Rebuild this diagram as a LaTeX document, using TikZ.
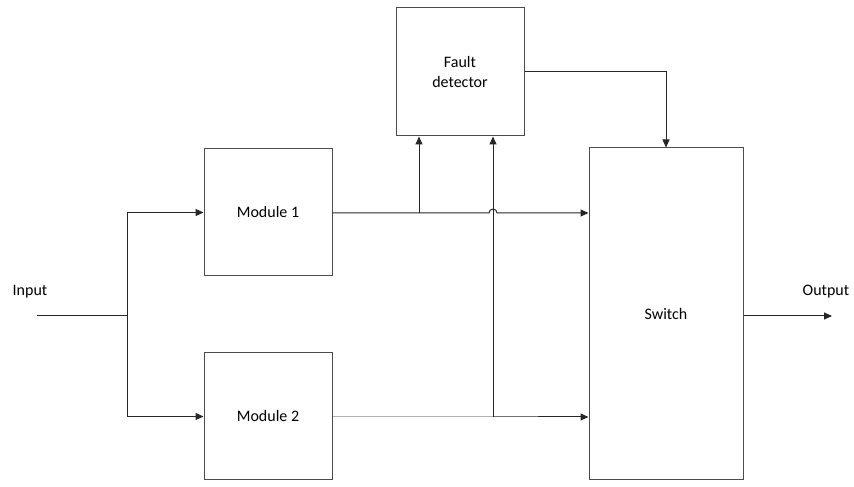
\documentclass[tikz,border=0pt]{standalone}
\usepackage{fontspec}
\setmainfont{Carlito}
\usetikzlibrary{positioning,arrows.meta}

\begin{document}
\begin{tikzpicture}[x=1pt,y=1pt,line cap=butt,line join=miter,>={Triangle[length=8pt,width=7pt]},
  every node/.style={inner sep=1pt,font=\fontsize{16}{20}\selectfont},
  block/.style={draw=black!70,line width=1pt,minimum width=128pt,minimum height=127pt,align=center},
  wire/.style={line width=1pt,draw=black!85}]
  \useasboundingbox (0,0) rectangle (854,487);
  \node[block] (mod1) at (268,274.5) {Module 1};
  \node[block] (mod2) at (268,70.5) {Module 2};
  \node[block,minimum height=128pt] (fault) at (460,415) {Fault\\detector};
  \node[block,minimum width=154pt,minimum height=332pt] (switch) at (666,173) {Switch};
  \coordinate (in) at (37,171);
  \coordinate (split) at (127,171);
  \coordinate (out) at (832,171);
  \coordinate (tap1) at (419,274);
  \coordinate (tap2) at (493,70);
  \node[anchor=south] (inlabel) at (30,188) {Input};
  \node[anchor=south] (outlabel) at (826,188) {Output};
  \draw[wire] (in) -- (split);
  \draw[wire,->] (split) |- (mod1.west);
  \draw[wire,->] (split) |- (mod2.west);
  \draw[wire,->] (mod1.east |- tap1) -- (tap1) -- (489,274) arc[start angle=180,end angle=0,radius=4] -- (switch.west |- tap1);
  \draw[wire,->] (tap1) -- (tap1 |- fault.south);
  \draw[wire,->] (mod2.east |- tap2) -- (tap2) -- (switch.west |- tap2);
  \draw[wire,->] (tap2) -- (tap2 |- fault.south);
  \draw[wire,->] (fault.east) -| (switch.north);
  \draw[wire,->] (switch.east |- out) -- (out);
\end{tikzpicture}
\end{document}
